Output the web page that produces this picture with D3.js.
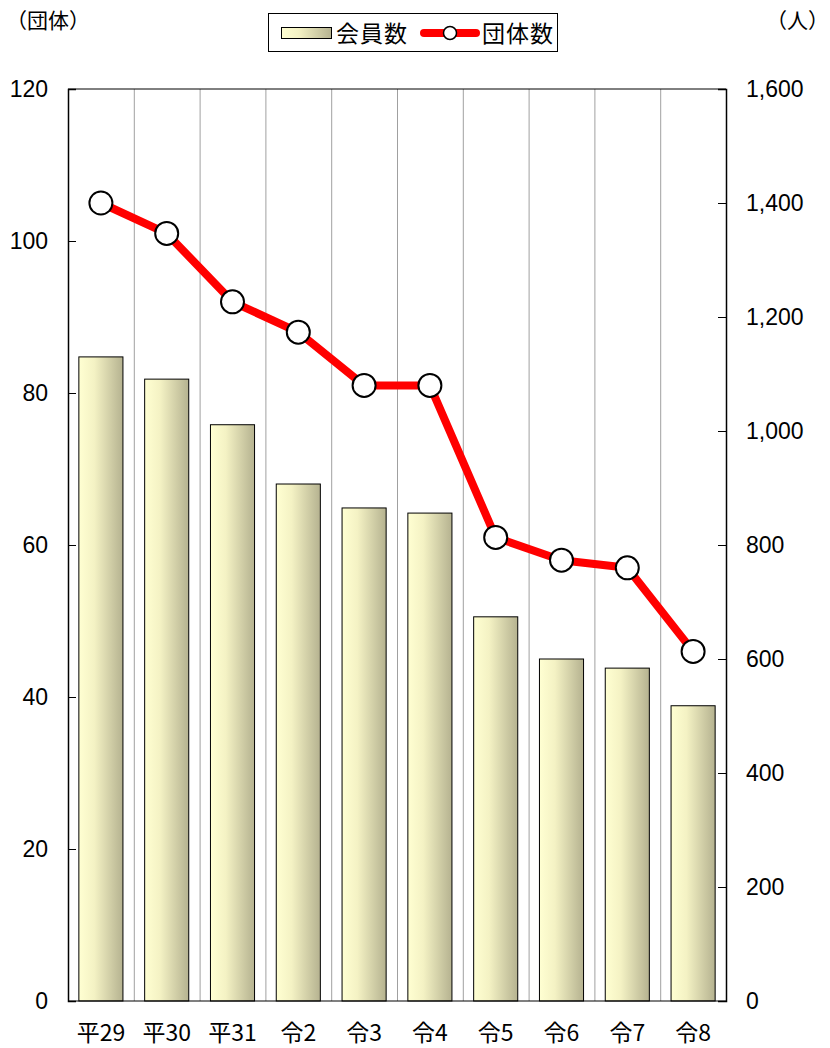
<!DOCTYPE html>
<html lang="ja"><head>
<meta charset="utf-8">
<title>会員数・団体数</title>
<script src="https://cdn.jsdelivr.net/npm/d3@7"></script>
<style>
  body { margin: 0; background: #fff; }
  text { font-family: "Noto Sans CJK JP", "Liberation Sans", sans-serif; fill: #000; }
  .num { font-family: "Liberation Sans", Arial, sans-serif; }
</style>
</head>
<body>
<script>
// data
var years = ["平29", "平30", "平31", "令2", "令3", "令4", "令5", "令6", "令7", "令8"];
var members = [1130, 1091, 1011, 907, 865, 856, 674, 600, 584, 518];   // 会員数 (人), right axis
var groups = [105, 101, 92, 88, 81, 81, 61, 58, 57, 46];                // 団体数, left axis
var leftTicks = [0, 20, 40, 60, 80, 100, 120];
var rightTicks = [0, 200, 400, 600, 800, 1000, 1200, 1400, 1600];

var w = 830, h = 1048;
var m = { left: 68, right: 104, top: 89, bottom: 47 };

var svg = d3.select("body").append("svg")
  .attr("width", w).attr("height", h);

var grad = svg.append("defs").append("linearGradient")
  .attr("id", "barGrad").attr("x1", "0%").attr("x2", "100%").attr("y1", "0%").attr("y2", "0%");
grad.append("stop").attr("offset", "0%").attr("stop-color", "#ffffd2");
grad.append("stop").attr("offset", "35%").attr("stop-color", "#f4f2c4");
grad.append("stop").attr("offset", "100%").attr("stop-color", "#b5b290");

var x = d3.scaleBand().domain(years).range([m.left, w - m.right]).paddingInner(0).paddingOuter(0);
var yL = d3.scaleLinear().domain([0, 120]).range([h - m.bottom, m.top]);
var yR = d3.scaleLinear().domain([0, 1600]).range([h - m.bottom, m.top]);

// vertical gridlines at category boundaries
svg.append("g").selectAll("line")
  .data(years.slice(1))
  .enter().append("line")
  .attr("x1", function(d) { return x(d) + 0.5; })
  .attr("x2", function(d) { return x(d) + 0.5; })
  .attr("y1", m.top).attr("y2", h - m.bottom)
  .attr("stroke", "#a0a0a0").attr("stroke-width", 1);

// bars
var bw = x.bandwidth() * 0.67;
svg.append("g").selectAll("rect")
  .data(members)
  .enter().append("rect")
  .attr("x", function(d, i) { return x(years[i]) + (x.bandwidth() - bw) / 2; })
  .attr("y", function(d) { return yR(d); })
  .attr("width", bw)
  .attr("height", function(d) { return yR(0) - yR(d); })
  .attr("fill", "url(#barGrad)")
  .attr("stroke", "#000").attr("stroke-width", 1);

// frame top/bottom
svg.append("line").attr("x1", m.left).attr("x2", w - m.right)
  .attr("y1", m.top).attr("y2", m.top).attr("stroke", "#000");
svg.append("line").attr("x1", m.left).attr("x2", w - m.right)
  .attr("y1", h - m.bottom).attr("y2", h - m.bottom).attr("stroke", "#000");

// axes (ticks inward)
svg.append("g").attr("transform", "translate(" + m.left + ",0)")
  .call(d3.axisRight(yL).tickValues(leftTicks).tickSize(8).tickFormat(""));
svg.append("g").attr("transform", "translate(" + (w - m.right) + ",0)")
  .call(d3.axisLeft(yR).tickValues(rightTicks).tickSize(8).tickFormat(""));
svg.selectAll(".domain").attr("stroke", "#000").attr("stroke-width", 1.5);
svg.selectAll(".tick line").attr("stroke", "#000");

svg.append("g").selectAll("text")
  .data(leftTicks).enter().append("text")
  .attr("class", "num")
  .attr("x", 48).attr("y", function(d) { return yL(d); })
  .attr("dy", "0.36em").attr("text-anchor", "end")
  .attr("font-size", "23px")
  .text(function(d) { return d; });

svg.append("g").selectAll("text")
  .data(rightTicks).enter().append("text")
  .attr("class", "num")
  .attr("x", 746).attr("y", function(d) { return yR(d); })
  .attr("dy", "0.36em").attr("text-anchor", "start")
  .attr("font-size", "23px")
  .text(function(d) { return d3.format(",")(d); });

// x labels
svg.append("g").selectAll("text")
  .data(years).enter().append("text")
  .attr("x", function(d) { return x(d) + x.bandwidth() / 2; })
  .attr("y", 1041)
  .attr("text-anchor", "middle")
  .attr("font-size", "23px")
  .text(function(d) { return d; });

// line
var line = d3.line()
  .x(function(d, i) { return x(years[i]) + x.bandwidth() / 2; })
  .y(function(d) { return yL(d); });
svg.append("path").datum(groups)
  .attr("d", line)
  .attr("fill", "none").attr("stroke", "#ff0000")
  .attr("stroke-width", 8).attr("stroke-linejoin", "round");
svg.append("g").selectAll("circle")
  .data(groups).enter().append("circle")
  .attr("cx", function(d, i) { return x(years[i]) + x.bandwidth() / 2; })
  .attr("cy", function(d) { return yL(d); })
  .attr("r", 11.5)
  .attr("fill", "#fff").attr("stroke", "#000").attr("stroke-width", 2);

// unit labels
svg.append("text").attr("x", 6).attr("y", 28).attr("font-size", "21px").text("（団体）");
svg.append("text").attr("x", 766).attr("y", 28).attr("font-size", "21px").text("（人）");

// legend
var lg = svg.append("g");
lg.append("rect").attr("x", 268.5).attr("y", 13.5).attr("width", 289).attr("height", 38)
  .attr("fill", "#fff").attr("stroke", "#000");
lg.append("rect").attr("x", 281.5).attr("y", 27.5).attr("width", 50).attr("height", 11)
  .attr("fill", "url(#barGrad)").attr("stroke", "#000");
lg.append("text").attr("x", 336).attr("y", 42).attr("font-size", "23px")
  .attr("letter-spacing", "1px").text("会員数");
lg.append("line").attr("x1", 424).attr("x2", 476).attr("y1", 33).attr("y2", 33)
  .attr("stroke", "#ff0000").attr("stroke-width", 8).attr("stroke-linecap", "round");
lg.append("circle").attr("cx", 450).attr("cy", 33).attr("r", 6.5)
  .attr("fill", "#fff").attr("stroke", "#000").attr("stroke-width", 1.5);
lg.append("text").attr("x", 482).attr("y", 42).attr("font-size", "23px")
  .attr("letter-spacing", "1px").text("団体数");
</script>
</body></html>
